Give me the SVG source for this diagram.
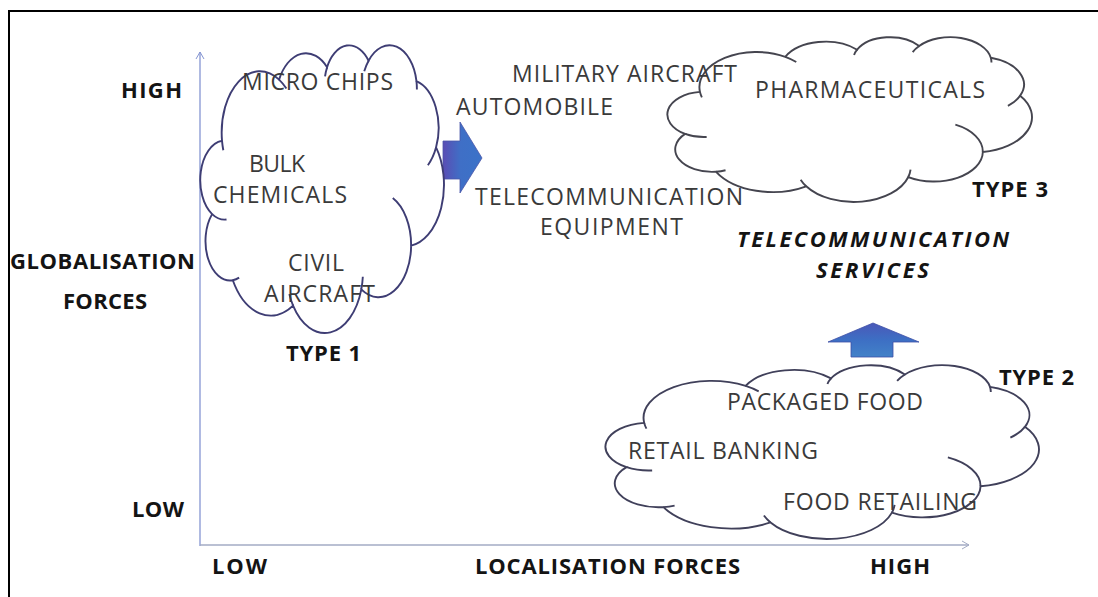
<svg xmlns="http://www.w3.org/2000/svg" xmlns:xlink="http://www.w3.org/1999/xlink" width="1098" height="597" viewBox="0 0 1098 597">
  <style>
    .lbl { font-family: "Open Sans", Lato, "Liberation Sans", sans-serif; font-size: 23px; fill: #3a3a3a; }
    .bold { font-family: "Open Sans", Lato, "Liberation Sans", sans-serif; font-size: 22px; font-weight: bold; fill: #141414; }
    .bi { font-style: italic; }
    .cloud { fill: #ffffff; stroke-width: 1.9; }
    .axis { fill: none; stroke-width: 1.3; }
  </style>
  <defs>
    <!-- Office-style cloud, drawn in a 43200 x 43200 box and scaled per use -->
    <path id="cloud-outline" vector-effect="non-scaling-stroke" d="M3900 14370 A6753 9190 0 0 1 14000 5192 A5333 7267 0 0 1 22500 3330 A4365 5945 0 0 1 29850 2360 A4857 6595 0 0 1 38324 5426 A5333 7273 0 0 1 41798 15354 A6775 9220 0 0 1 37382 30094 A5785 7867 0 0 1 28560 36660 A6752 9215 0 0 1 16478 39090 A7720 10543 0 0 1 5811 35288 A4360 5918 0 0 1 2144 25369 A4345 5945 0 0 1 3900 14370 Z"/>
    <path id="cloud-inner" vector-effect="non-scaling-stroke" fill="none" d="M4693 26177 A4345 5945 0 0 1 2144 25369 M6928 34899 A4360 5918 0 0 1 5811 35288 M16478 39090 A6752 9215 0 0 1 15817 37371 M28827 34751 A6752 9215 0 0 1 28560 36660 M34129 22954 A5785 7867 0 0 1 37382 30094 M41798 15354 A5333 7273 0 0 1 40350 18030 M38324 5426 A4857 6595 0 0 1 38400 6690 M29078 3952 A4857 6595 0 0 1 29850 2360 M22141 4720 A4365 5945 0 0 1 22500 3330 M14000 5192 A6753 9190 0 0 1 15299 6540 M4127 15789 A6753 9190 0 0 1 3900 14370"/>
    <marker id="open-tip" markerWidth="10" markerHeight="10" refX="8" refY="5" orient="auto" markerUnits="userSpaceOnUse">
      <path d="M1 1 L8 5 L1 9" fill="none" stroke="context-stroke" stroke-width="1"/>
    </marker>
    <linearGradient id="arrow-right-fill" x1="0" y1="0" x2="1" y2="0">
      <stop offset="0" stop-color="#5a4db4"/>
      <stop offset="0.45" stop-color="#3f6fc6"/>
      <stop offset="1" stop-color="#3b72c8"/>
    </linearGradient>
    <linearGradient id="arrow-up-fill" x1="0" y1="0" x2="0" y2="1">
      <stop offset="0" stop-color="#4a58b8"/>
      <stop offset="0.5" stop-color="#3d6fc4"/>
      <stop offset="1" stop-color="#4282c8"/>
    </linearGradient>
  </defs>

  <rect x="0" y="0" width="1098" height="597" fill="#ffffff"/>
  <!-- outer frame -->
  <rect x="9" y="11" width="1100" height="600" fill="none" stroke="#000000" stroke-width="2"/>

  <g id="connectors">
    <!-- axes -->
    <line class="axis" x1="200" y1="546" x2="200" y2="52" stroke="#8595d2" marker-end="url(#open-tip)"/>
    <line class="axis" x1="200" y1="545" x2="969" y2="545" stroke="#a3abc4" marker-end="url(#open-tip)"/>
    <!-- block arrows -->
    <polygon id="arrow-right" points="443,141 460,141 460,122 482,158 460,193 460,179 443,179" fill="url(#arrow-right-fill)" stroke="#4a55a8" stroke-width="0.8"/>
    <polygon id="arrow-up" points="851,357 851,342 828,342 873,323 919,342 893,342 893,357" fill="url(#arrow-up-fill)" stroke="#3d4fa6" stroke-width="0.8"/>
  </g>

  <g id="type1">
    <g transform="translate(200,45) scale(0.0056481,0.0066667)" stroke="#3e3d74">
      <use href="#cloud-outline" class="cloud"/>
      <use href="#cloud-inner" class="cloud" style="fill:none"/>
    </g>
    <text class="lbl" x="242" y="90" textLength="151">MICRO CHIPS</text>
    <text class="lbl" x="249" y="172" textLength="56">BULK</text>
    <text class="lbl" x="213" y="203" textLength="134">CHEMICALS</text>
    <text class="lbl" x="288" y="271" textLength="56">CIVIL</text>
    <text class="lbl" x="264" y="302" textLength="111">AIRCRAFT</text>
    <text class="bold" x="286" y="361" textLength="75">TYPE 1</text>
  </g>

  <g id="type3">
    <g transform="translate(667,37) scale(0.0084491,0.0038194)" stroke="#45454f">
      <use href="#cloud-outline" class="cloud"/>
      <use href="#cloud-inner" class="cloud" style="fill:none"/>
    </g>
    <text class="lbl" x="755" y="98" textLength="230">PHARMACEUTICALS</text>
    <text class="bold" x="972" y="197" textLength="76">TYPE 3</text>
  </g>

  <g id="transition">
    <text class="lbl" x="512" y="82" textLength="225">MILITARY AIRCRAFT</text>
    <text class="lbl" x="456" y="115" textLength="157">AUTOMOBILE</text>
    <text class="lbl" x="475" y="205" textLength="268">TELECOMMUNICATION</text>
    <text class="lbl" x="540" y="235" textLength="143">EQUIPMENT</text>
  </g>

  <g id="telecom-services">
    <text class="bold bi" x="737" y="247" textLength="272">TELECOMMUNICATION</text>
    <text class="bold bi" x="816" y="278" textLength="113">SERVICES</text>
  </g>

  <g id="type2">
    <g transform="translate(605,365) scale(0.0100463,0.0040278)" stroke="#40405a">
      <use href="#cloud-outline" class="cloud"/>
      <use href="#cloud-inner" class="cloud" style="fill:none"/>
    </g>
    <text class="lbl" x="727" y="410" textLength="196">PACKAGED FOOD</text>
    <text class="lbl" x="628" y="459" textLength="190">RETAIL BANKING</text>
    <text class="lbl" x="783" y="510" textLength="194">FOOD RETAILING</text>
    <text class="bold" x="999" y="385" textLength="75">TYPE 2</text>
  </g>

  <g id="y-axis-labels">
    <text class="bold" x="121" y="98" textLength="61">HIGH</text>
    <text class="bold" x="10" y="269" textLength="185">GLOBALISATION</text>
    <text class="bold" x="63" y="309" textLength="84">FORCES</text>
    <text class="bold" x="132" y="517" textLength="52">LOW</text>
  </g>

  <g id="x-axis-labels">
    <text class="bold" x="212" y="574" textLength="55">LOW</text>
    <text class="bold" x="475" y="574" textLength="265">LOCALISATION FORCES</text>
    <text class="bold" x="870" y="574" textLength="60">HIGH</text>
  </g>
</svg>
